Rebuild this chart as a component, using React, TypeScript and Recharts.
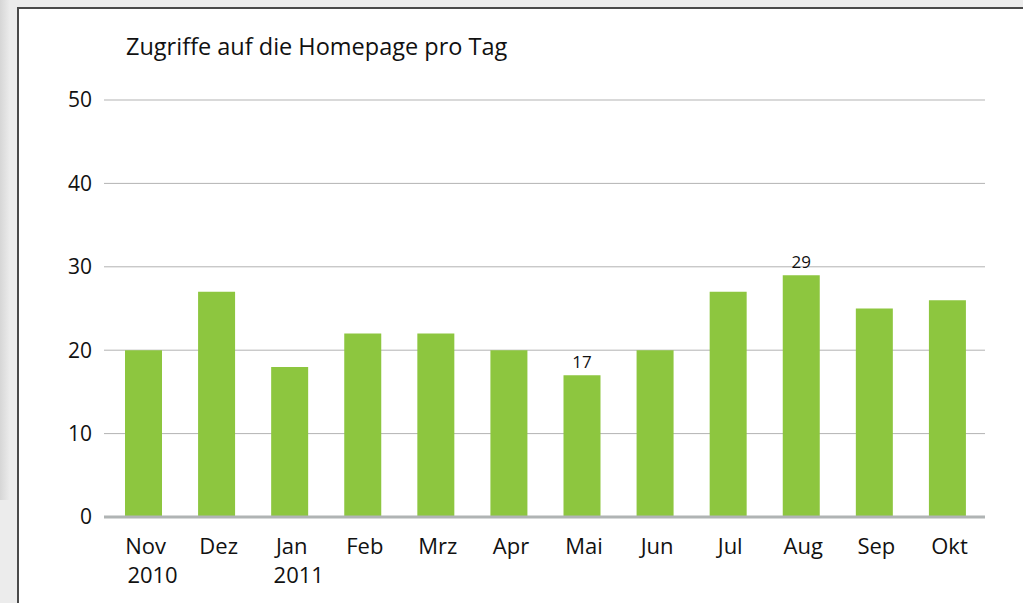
import React from "react"
import { Bar, BarChart, CartesianGrid, XAxis, YAxis } from "recharts"

const months = ["Nov", "Dez", "Jan", "Feb", "Mrz", "Apr", "Mai", "Jun", "Jul", "Aug", "Sep", "Okt"]
const years = ["2010", "", "2011", "", "", "", "", "", "", "", "", ""]
const visits = [20, 27, 18, 22, 22, 20, 17, 20, 27, 29, 25, 26]
const shownLabels = [null, null, null, null, null, null, 17, null, null, 29, null, null]
const yTicks = [0, 10, 20, 30, 40, 50]

const data = months.map((m, i) => ({
  name: m,
  total: visits[i],
}))

const font = "'Open Sans', 'Noto Sans', sans-serif"

function MonthTick(props: any) {
  const { x, y, payload, index } = props
  const year = years[index]
  return (
    <g transform={`translate(${x},${y})`}>
      <text x={2} textAnchor="middle" fontSize={22} fontFamily={font} fill="#111" y={29}>
        {payload.value}
      </text>
      {year ? (
        <text x={9} textAnchor="middle" fontSize={22} fontFamily={font} fill="#111" y={58}>
          {year}
        </text>
      ) : null}
    </g>
  )
}

function renderValueLabel(props: any) {
  const { x, y, width, index } = props
  const value = shownLabels[index]
  if (value == null) return <g key={index} />
  return (
    <text key={index} x={x + width / 2} y={y - 7} textAnchor="middle" fontSize={17} fontFamily={font} fill="#111">
      {value}
    </text>
  )
}

export default function App() {
  return (
    <div style={{ position: "absolute", left: 0, top: 0, width: 1023, height: 603, background: "#ececec", overflow: "hidden" }}>
      <div
        style={{
          position: "absolute",
          left: 0,
          top: 0,
          width: 10,
          height: 500,
          background: "linear-gradient(to right, #d6d6d6, #ececec)",
        }}
      />
      <div
        style={{
          position: "absolute",
          left: 17,
          top: 7,
          right: 0,
          bottom: 0,
          background: "#fff",
          borderLeft: "2px solid #4a4a4a",
          borderTop: "2px solid #4a4a4a",
        }}
      />
      <div
        style={{
          position: "absolute",
          left: 126,
          top: 30,
          fontFamily: font,
          fontSize: 23.5,
          color: "#111",
          whiteSpace: "nowrap",
        }}
      >
        Zugriffe auf die Homepage pro Tag
      </div>
      <div style={{ position: "absolute", left: 0, top: 0 }}>
        <BarChart width={1023} height={603} data={data} margin={{ top: 100, right: 38, bottom: 0, left: 0 }}>
          <CartesianGrid vertical={false} stroke="#b3b3b3" strokeWidth={1} />
          <XAxis
            dataKey="name"
            height={86}
            tickLine={false}
            axisLine={{ stroke: "#b0b4b4", strokeWidth: 3 }}
            tick={<MonthTick />}
            interval={0}
            padding={{ left: 3, right: 1 }}
          />
          <YAxis
            width={104}
            domain={[0, 50]}
            ticks={yTicks}
            tickLine={false}
            axisLine={false}
            tickMargin={6}
            tick={{ fontSize: 21, fontFamily: font, fill: "#111" }}
          />
          <Bar dataKey="total" fill="#8dc63f" barSize={37} isAnimationActive={false} label={renderValueLabel} />
        </BarChart>
      </div>
    </div>
  )
}
